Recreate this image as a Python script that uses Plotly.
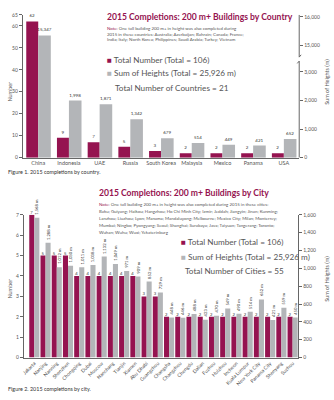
import plotly.graph_objects as go

# ---------------- data ----------------
countries = ["China", "Indonesia", "UAE", "Russia", "South Korea", "Malaysia", "Mexico", "Panama", "USA"]
country_counts = [62, 9, 7, 5, 3, 2, 2, 2, 2]
country_heights = [15347, 1998, 1871, 1342, 679, 514, 449, 421, 652]

cities = ["Jakarta", "Nanjing", "Nanning", "Shenzhen", "Chongqing", "Dubai", "Moscow", "Nanchang",
          "Tianjin", "Xiamen", "Abu Dhabi", "Guangzhou", "Changsha", "Changzhou", "Chengdu", "Dalian",
          "Fuzhou", "Huizhou", "Incheon", "Kuala Lumpur", "New York City", "Panama City", "Shenyang", "Suzhou"]
city_counts = [7, 5, 5, 5, 4, 4, 4, 4, 4, 4, 3, 3, 2, 2, 2, 2, 2, 2, 2, 2, 2, 2, 2, 2]
city_heights = [1568, 1288, 1012, 1030, 1011, 1038, 1132, 1049, 971, 909, 852, 729,
                448, 446, 488, 423, 470, 549, 490, 514, 652, 421, 559, 450]

left_ticks_1 = [0, 10, 20, 30, 40, 50, 60, 65]
right_ticks_1 = [0, 1000, 2000, 3000, 15000, 16000]
left_ticks_2 = [0, 1, 2, 3, 4, 5, 6, 7]
right_ticks_2 = [0, 200, 400, 600, 800, 1000, 1200, 1400, 1600]

# ---------------- style ----------------
CRIMSON = "#951350"
GRAY = "#b3b5b8"
TXT = "#555555"
DARK = "#333333"
AX = "#666666"
FONT = "Lato"
W, H = 334, 400

# broken right axis of figure 1 (0-3,000 | 15,000-16,000)
BREAK_AT = 3000
BREAK_SHIFT = 11069


def broken(v):
    return v if v <= BREAK_AT else v - BREAK_SHIFT


def px(x):
    return x / W


def py(y):
    return 1 - y / H


fig = go.Figure()

# Figure 1
fig.add_trace(go.Bar(
    x=countries, y=country_counts, xaxis="x", yaxis="y",
    marker=dict(color=CRIMSON, line=dict(width=0)), width=0.39, offset=-0.39,
    text=[str(v) for v in country_counts], textposition="outside",
    textfont=dict(size=4.5, color=DARK, family=FONT), cliponaxis=False,
    constraintext="none", showlegend=False, hoverinfo="skip"))
fig.add_trace(go.Bar(
    x=countries, y=[broken(v) for v in country_heights], xaxis="x", yaxis="y2",
    marker=dict(color=GRAY, line=dict(width=0)), width=0.41, offset=0,
    text=[f"{v:,}" for v in country_heights], textposition="outside",
    textfont=dict(size=4.5, color=DARK, family=FONT), cliponaxis=False,
    constraintext="none", showlegend=False, hoverinfo="skip"))

# Figure 2
fig.add_trace(go.Bar(
    x=cities, y=city_counts, xaxis="x2", yaxis="y3",
    marker=dict(color=CRIMSON, line=dict(width=0)), width=0.45, offset=-0.45,
    text=[str(v) for v in city_counts], textposition="outside",
    textfont=dict(size=4.2, color=DARK, family=FONT), cliponaxis=False,
    constraintext="none", showlegend=False, hoverinfo="skip"))
fig.add_trace(go.Bar(
    x=cities, y=city_heights, xaxis="x2", yaxis="y4",
    marker=dict(color=GRAY, line=dict(width=0)), width=0.45, offset=0,
    cliponaxis=False, showlegend=False, hoverinfo="skip"))

tickfont = dict(size=5, color=TXT, family=FONT)

fig.update_layout(
    width=W, height=H, margin=dict(l=0, r=0, t=0, b=0, pad=0),
    paper_bgcolor="white", plot_bgcolor="white",
    font=dict(family=FONT, color=TXT),
    xaxis=dict(domain=[px(21), px(299)], anchor="y", range=[-0.5, 8.5],
               showline=True, linecolor=AX, linewidth=1, ticks="", showgrid=False,
               tickfont=dict(size=5.5, color=TXT, family=FONT), fixedrange=True),
    yaxis=dict(domain=[py(157), py(12)], anchor="x", range=[0, 65], tickvals=left_ticks_1,
               ticks="outside", ticklen=3, tickcolor=AX, showline=True, linecolor=AX,
               showgrid=False, zeroline=False, tickfont=tickfont),
    yaxis2=dict(overlaying="y", side="right", anchor="x", range=[0, 5000],
                tickvals=[broken(v) for v in right_ticks_1],
                ticktext=[f"{v:,}" for v in right_ticks_1],
                ticks="outside", ticklen=3, tickcolor=AX, showline=False,
                showgrid=False, zeroline=False, tickfont=tickfont),
    xaxis2=dict(domain=[px(22), px(298)], anchor="y3", range=[-0.93, 23.5],
                showline=True, linecolor=AX, linewidth=1, ticks="", showgrid=False,
                tickangle=-45, tickfont=dict(size=5, color=TXT, family=FONT)),
    yaxis3=dict(domain=[py(360), py(215)], anchor="x2", range=[0, 7], tickvals=left_ticks_2,
                ticks="outside", ticklen=3, tickcolor=AX, showline=True, linecolor=AX,
                showgrid=False, zeroline=False, tickfont=tickfont),
    yaxis4=dict(overlaying="y3", side="right", anchor="x2", range=[0, 1600],
                tickvals=right_ticks_2, tickformat=",",
                ticks="outside", ticklen=3, tickcolor=AX, showline=True, linecolor=AX,
                showgrid=False, zeroline=False, tickfont=tickfont),
    bargap=0.1,
)

# broken right axis line for figure 1
shapes = [
    dict(type="line", xref="x domain", yref="y2", x0=1, x1=1, y0=0, y1=3380,
         line=dict(color=AX, width=1)),
    dict(type="line", xref="x domain", yref="y2", x0=1, x1=1, y0=3520, y1=5000,
         line=dict(color=AX, width=1)),
    dict(type="line", xref="x domain", yref="y2", x0=0.993, x1=1.0, y0=3300, y1=3380,
         line=dict(color=AX, width=1)),
    dict(type="line", xref="x domain", yref="y2", x0=1.0, x1=1.007, y0=3520, y1=3600,
         line=dict(color=AX, width=1)),
]
fig.update_layout(shapes=shapes)

ann = []

# vertical value labels above the gray city bars (placed at the data value)
for c, v in zip(cities, city_heights):
    ann.append(dict(x=c, y=v, xref="x2", yref="y4", text=f"{v:,} m", showarrow=False,
                    textangle=-90, xanchor="center", yanchor="bottom", xshift=2.8, yshift=1,
                    font=dict(size=4.2, color=DARK, family=FONT)))


def text(x, y, s, size, color=TXT, anchor="left", bold=False, angle=0):
    if bold:
        s = f"<b>{s}</b>"
    ann.append(dict(x=px(x), y=py(y), xref="paper", yref="paper", text=s, showarrow=False,
                    xanchor=anchor, yanchor="middle", textangle=angle,
                    font=dict(size=size, color=color, family=FONT)))


note = f"<span style='color:{CRIMSON}'>Note:</span>"
sq_r = f"<span style='color:{CRIMSON}'>■</span>"
sq_g = f"<span style='color:{GRAY}'>■</span>"

# Figure 1 texts
text(104, 14, "2015 Completions: 200 m+ Buildings by Country", 8.6, CRIMSON, bold=True)
text(104, 26, f"{note} One tall building 200 m+ in height was also completed during", 4.4)
text(104, 31.5, "2015 in these countries: Australia; Azerbaijan; Bahrain; Canada; France;", 4.4)
text(104, 37, "India; Italy; North Korea; Philippines; Saudi Arabia; Turkey; Vietnam", 4.4)
text(104, 58, f"{sq_r} Total Number (Total = 106)", 8.2)
text(104, 71, f"{sq_g} Sum of Heights (Total = 25,926 m)", 8.2)
text(112, 86, "Total Number of Countries = 21", 8.2)
text(8, 90, "Number", 5.5, TXT, anchor="center", angle=-90)
text(327, 80, "Sum of Heights (m)", 5.5, TXT, anchor="center", angle=-90)
text(4, 172, "Figure 1. 2015 completions by country.", 5.4, DARK)

# Figure 2 texts
text(96, 193, "2015 Completions: 200 m+ Buildings by City", 8.6, CRIMSON, bold=True)
text(96, 205, f"{note} One tall building 200 m+ in height was also completed during 2015 in these cities:", 4.4)
text(96, 212, "Baku; Guiyang; Haikou; Hangzhou; Ho Chi Minh City; Izmir; Jeddah; Jiangyin; Jinan; Kunming;", 4.4)
text(96, 219, "Lanzhou; Liuzhou; Lyon; Manama; Mandaluyong; Melbourne; Mexico City; Milan; Monterrey;", 4.4)
text(96, 226, "Mumbai; Ningbo; Pyongyang; Seoul; Shanghai; Surabaya; Java; Taiyuan; Tangerang; Toronto;", 4.4)
text(96, 232.5, "Wuhan; Wuhu; Wuxi; Yekaterinburg", 4.4)
text(178, 243, f"{sq_r} Total Number (Total = 106)", 8.2)
text(178, 258, f"{sq_g} Sum of Heights (Total = 25,926 m)", 8.2)
text(182, 272, "Total Number of Cities = 55", 8.2)
text(8, 290, "Number", 5.5, TXT, anchor="center", angle=-90)
text(327, 280, "Sum of Heights (m)", 5.5, TXT, anchor="center", angle=-90)
text(4, 392, "Figure 2. 2015 completions by city.", 5.4, DARK)

fig.update_layout(annotations=ann)

fig.write_html("out.html")
